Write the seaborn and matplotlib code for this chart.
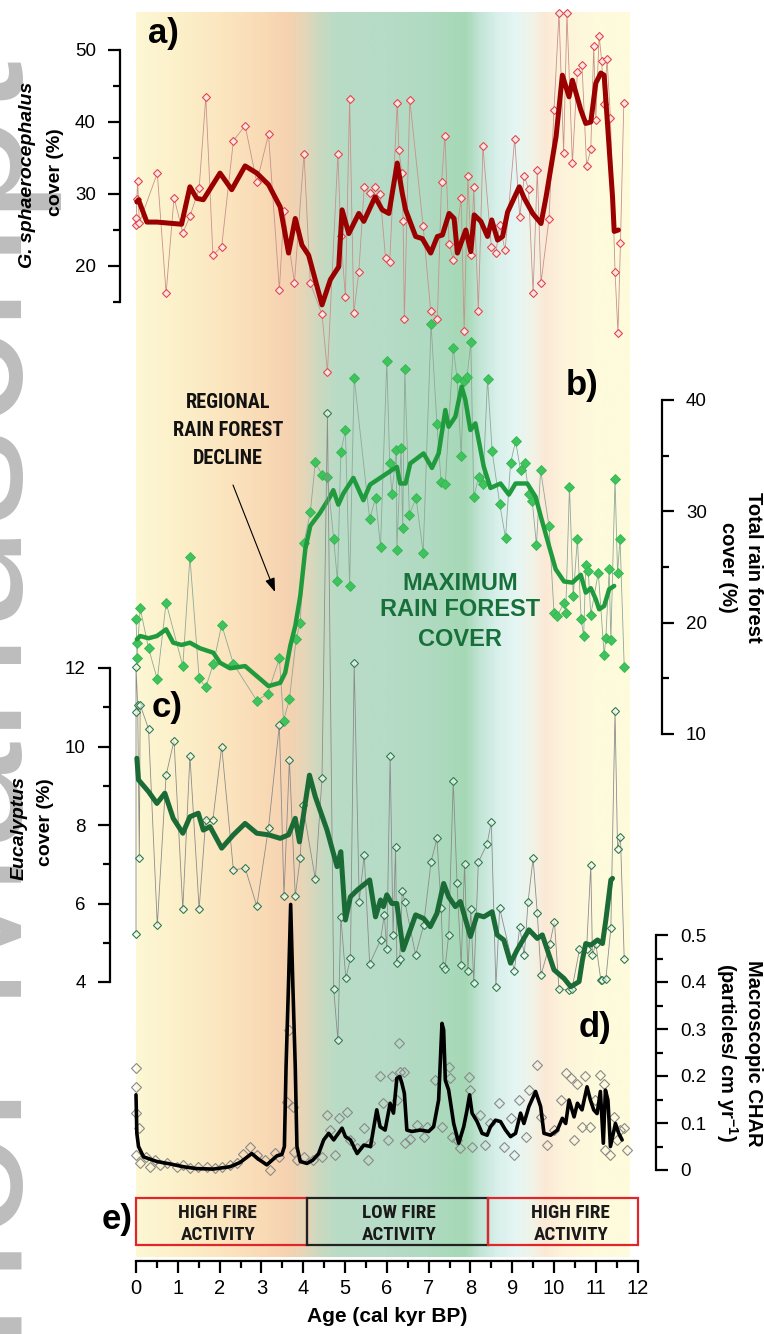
import numpy as np
import matplotlib
matplotlib.use("Agg")
import matplotlib.pyplot as plt
import seaborn as sns
from matplotlib.colors import LinearSegmentedColormap
from matplotlib.patches import Rectangle
from matplotlib import font_manager

sns.set_theme(style="white", rc={"axes.edgecolor": "black", "xtick.color": "black",
                                 "ytick.color": "black", "text.color": "black"})
plt.rcParams['font.family'] = ['Liberation Sans', 'DejaVu Sans']
plt.rcParams['mathtext.default'] = 'regular'


def find_narrow():
    fm = font_manager
    for fam in ['Liberation Sans Narrow', 'Arial Narrow', 'Nimbus Sans Narrow', 'Roboto Condensed',
                'Noto Sans Condensed', 'Open Sans Condensed', 'DejaVu Sans Condensed']:
        try:
            fm.findfont(fm.FontProperties(family=fam, weight='bold'), fallback_to_default=False)
            return dict(family=[fam, 'DejaVu Sans'])
        except Exception:
            pass
    for fam in ['Noto Sans', 'Roboto', 'Open Sans', 'DejaVu Sans']:
        try:
            p = fm.findfont(fm.FontProperties(family=fam, weight='bold', stretch='condensed'),
                            fallback_to_default=False)
            if 'ondensed' in p or 'arrow' in p:
                return dict(family=[fam, 'DejaVu Sans'], stretch='condensed')
        except Exception:
            pass
    return dict(family=['Liberation Sans', 'DejaVu Sans'])


NARROW = find_narrow()

# ---------------- data ----------------
# a) G. sphaerocephalus cover (%) - raw samples
a_age = [0.0, 0.0, 0.02, 0.04, 0.08, 0.51, 0.72, 0.91, 1.12, 1.29, 1.51, 1.67, 1.84, 2.05, 2.33, 2.61, 2.89,
         3.17, 3.43, 3.54, 3.79, 4.02, 4.17, 4.45, 4.58, 4.83, 4.90, 5.01, 5.11, 5.21, 5.33, 5.46, 5.59, 5.72,
         5.84, 5.97, 6.07, 6.25, 6.29, 6.36, 6.39, 6.42, 6.55, 6.87, 7.05, 7.21, 7.31, 7.39, 7.49, 7.59, 7.78,
         7.85, 7.94, 8.02, 8.08, 8.19, 8.30, 8.50, 8.61, 8.70, 8.83, 9.06, 9.18, 9.29, 9.39, 9.50, 9.60, 9.69,
         9.88, 10.00, 10.12, 10.23, 10.31, 10.44, 10.56, 10.67, 10.78, 10.88, 10.95, 11.00, 11.08, 11.14, 11.20,
         11.27, 11.35, 11.46, 11.53, 11.59, 11.67]
a_val = [26.6, 25.7, 29.3, 31.8, 26.0, 32.9, 16.2, 29.5, 24.6, 26.9, 30.8, 43.5, 21.5, 22.7, 37.4, 39.5, 31.6,
         38.3, 16.7, 27.7, 17.7, 35.6, 17.6, 13.3, 5.3, 35.6, 24.1, 15.7, 43.2, 13.5, 19.1, 31.0, 30.1, 31.0,
         30.0, 21.1, 20.6, 42.7, 36.1, 32.9, 26.3, 12.6, 43.1, 25.5, 13.7, 12.7, 31.6, 38.1, 23.1, 20.9, 29.5,
         11.0, 32.5, 21.5, 31.0, 13.7, 36.6, 22.7, 21.8, 25.7, 22.2, 37.7, 26.8, 32.5, 30.7, 16.2, 33.3, 17.7,
         26.5, 41.7, 55.2, 35.7, 55.1, 34.3, 47.0, 47.9, 33.9, 36.2, 50.5, 40.3, 52.0, 48.5, 42.5,
         48.7, 40.6, 19.2, 10.7, 23.2, 42.7]
# a) smoothed curve
as_age = [0.02, 0.06, 0.26, 0.50, 1.09, 1.29, 1.45, 1.61, 2.01, 2.29, 2.61, 2.89, 3.17, 3.45, 3.65, 3.81, 3.97,
          4.13, 4.45, 4.65, 4.85, 4.93, 5.09, 5.33, 5.45, 5.72, 5.89, 6.05, 6.25, 6.37, 6.45, 6.69, 6.85, 7.05,
          7.21, 7.33, 7.49, 7.61, 7.69, 7.89, 8.01, 8.09, 8.25, 8.41, 8.51, 8.65, 8.77, 8.89, 9.17, 9.29, 9.49,
          9.69, 9.81, 9.89, 10.05, 10.20, 10.36, 10.44, 10.64, 10.76, 10.88, 11.00, 11.12, 11.20, 11.40, 11.44,
          11.54]
as_val = [28.9, 29.2, 26.1, 26.1, 25.8, 31.0, 29.4, 29.2, 32.9, 30.6, 33.9, 32.9, 31.3, 28.2, 21.8, 26.6, 22.9,
          21.5, 14.6, 18.1, 19.9, 27.8, 24.5, 27.3, 26.2, 29.6, 27.8, 27.3, 34.3, 30.1, 27.8, 24.1, 23.8, 21.8,
          24.1, 24.3, 27.3, 26.6, 21.8, 25.0, 22.0, 27.1, 26.2, 24.1, 26.4, 23.6, 24.1, 27.5, 31.0, 29.4, 27.3,
          25.9, 29.6, 32.4, 38.0, 46.5, 43.5, 45.8, 41.7, 39.8, 40.0, 45.4, 46.8, 46.5, 29.6, 24.8,
          25.0]

# b) total rain forest cover (%)
b_age = [0.0, 0.02, 0.02, 0.10, 0.30, 0.51, 0.72, 1.12, 1.29, 1.51, 1.67, 1.85, 2.05, 2.33, 2.89, 3.15, 3.43,
         3.53, 3.67, 3.83, 3.93, 4.02, 4.17, 4.29, 4.45, 4.58, 4.73, 4.82, 4.90, 5.01, 5.11, 5.22, 5.59, 5.73,
         5.85, 6.00, 6.07, 6.12, 6.23, 6.24, 6.34, 6.38, 6.43, 6.54, 6.70, 6.87, 7.06, 7.20, 7.30, 7.40, 7.59,
         7.68, 7.78, 7.84, 7.92, 8.01, 8.08, 8.20, 8.30, 8.41, 8.52, 8.70, 8.84, 8.96, 9.08, 9.20, 9.30, 9.40,
         9.48, 9.58, 9.68, 9.88, 10.00, 10.08, 10.24, 10.28, 10.37, 10.46, 10.56, 10.65, 10.71, 10.76, 10.82,
         10.88, 11.06, 11.20, 11.24, 11.32, 11.36, 11.46, 11.52, 11.58, 11.68]
b_val = [20.3, 18.2, 16.8, 21.3, 17.7, 14.9, 21.8, 16.1, 25.9, 15.0, 14.2, 16.3, 19.8, 16.3, 13.0, 13.6, 16.8,
         11.2, 13.1, 18.5, 20.0, 27.2, 29.9, 34.4, 33.3, 33.1, 27.5, 23.7, 35.3, 37.3, 23.3, 42.0, 29.3, 31.2,
         26.8, 43.5, 34.3, 31.6, 35.5, 26.5, 35.7, 28.5, 42.8, 29.7, 31.2, 26.3, 46.8, 37.8, 32.6, 32.5, 44.7,
         42.0, 35.0, 41.7, 42.1, 45.2, 31.3, 33.1, 32.5, 41.9, 35.4, 30.7, 27.6, 34.3, 36.3, 33.7, 34.3, 31.6,
         30.9, 27.0, 33.7, 28.7, 20.9, 20.6, 21.8, 20.9, 32.2, 22.4, 27.5, 20.3, 18.8, 25.2, 24.6,
         20.7, 24.5, 17.1, 18.6, 24.8, 18.4, 32.9, 24.5, 27.5, 16.0]
bs_age = [0.02, 0.10, 0.30, 0.50, 0.72, 0.89, 1.09, 1.29, 1.53, 1.85, 2.01, 2.25, 2.61, 2.89, 3.17, 3.45, 3.57,
          3.69, 3.81, 3.93, 4.05, 4.17, 4.40, 4.64, 4.72, 4.84, 4.96, 5.20, 5.44, 5.60, 6.00, 6.24, 6.32, 6.45,
          6.56, 6.88, 7.08, 7.24, 7.40, 7.48, 7.64, 7.79, 7.88, 8.00, 8.12, 8.32, 8.48, 8.72, 8.92, 9.08, 9.36,
          9.56, 9.68, 9.88, 10.04, 10.24, 10.44, 10.64, 10.76, 10.88, 11.00, 11.08, 11.20, 11.32, 11.44]
bs_val = [18.5, 18.8, 18.6, 18.8, 19.4, 18.2, 18.0, 18.2, 17.7, 17.3, 16.4, 15.9, 16.1, 15.2, 14.3, 14.6, 15.5,
          17.9, 19.7, 22.4, 26.6, 28.7, 29.85, 31.3, 31.9, 30.6, 31.6, 33.0, 31.0, 32.4, 33.4, 34.0, 32.5, 32.5,
          34.3, 35.2, 33.9, 35.2, 39.1, 37.6, 38.5, 41.2, 40.0, 37.3, 37.9, 34.0, 32.1, 32.5, 31.5, 32.5, 32.5,
          31.3, 29.6, 26.9, 24.8, 23.7, 23.6, 24.3, 22.7, 23.1, 22.1, 21.2, 21.5, 23.0, 23.3]

# c) Eucalyptus cover (%)
c_age = [0.0, 0.0, 0.0, 0.04, 0.08, 0.10, 0.30, 0.51, 0.72, 0.91, 1.12, 1.29, 1.51, 1.67, 1.84, 2.05, 2.33,
         2.61, 2.89, 3.17, 3.43, 3.54, 3.67, 3.81, 3.93, 3.99, 4.29, 4.45, 4.58, 4.73, 4.83, 4.90, 5.02, 5.13,
         5.22, 5.34, 5.46, 5.59, 5.85, 5.94, 6.00, 6.08, 6.15, 6.21, 6.24, 6.31, 6.37, 6.43, 6.69, 6.88, 7.06,
         7.20, 7.30, 7.35, 7.39, 7.48, 7.59, 7.68, 7.78, 7.86, 7.94, 8.01, 8.08, 8.19, 8.40, 8.50, 8.61, 8.70,
         9.05, 9.18, 9.29, 9.38, 9.50, 9.60, 9.69, 9.90, 10.01, 10.12, 10.35, 10.43, 10.61, 10.78, 10.88, 10.92,
         11.00, 11.12, 11.16, 11.24, 11.36, 11.46, 11.52, 11.59, 11.68]
c_val = [5.22, 10.89, 12.03, 11.06, 7.15, 11.06, 10.45, 5.44, 9.27, 10.15, 5.85, 9.76, 5.87, 8.14, 8.14, 10.00,
         6.85, 6.91, 5.93, 7.93, 10.55, 6.19, 9.66, 6.19, 7.17, 8.51, 6.62, 9.19, 18.5, 3.81, 2.51, 5.66, 4.09,
         4.60, 12.14, 6.05, 7.24, 4.46, 5.07, 5.71, 4.83, 9.77, 5.20, 7.45, 4.48, 4.58, 6.32, 6.05, 4.69, 5.44,
         7.07, 7.66, 5.88, 4.41, 4.32, 5.20, 9.13, 6.53, 4.43, 7.00, 4.28, 5.85, 3.97, 7.05, 7.52, 8.08, 3.88,
         5.88, 4.29, 5.39, 4.69, 6.05, 7.15, 5.75, 4.18, 4.97, 5.54, 3.81, 3.80, 3.82, 4.83, 4.84, 6.97, 4.68,
         4.98, 4.05, 4.05, 4.07, 5.37, 10.91, 7.40, 7.70, 4.59]
cs_age = [0.02, 0.06, 0.30, 0.50, 0.69, 0.89, 1.12, 1.29, 1.49, 1.61, 1.77, 2.05, 2.33, 2.61, 2.89, 3.17, 3.45,
          3.65, 3.81, 3.91, 4.15, 4.29, 4.57, 4.81, 4.90, 5.01, 5.13, 5.29, 5.59, 5.73, 5.85, 5.92, 6.00, 6.12,
          6.24, 6.39, 6.69, 6.88, 7.04, 7.20, 7.36, 7.48, 7.64, 7.76, 8.00, 8.16, 8.32, 8.52, 8.64, 8.80, 8.96,
          9.12, 9.40, 9.60, 9.72, 10.00, 10.24, 10.40, 10.60, 10.68, 10.76, 10.88, 11.04, 11.16, 11.24, 11.36,
          11.40]
cs_val = [9.70, 9.15, 8.85, 8.55, 8.81, 8.17, 7.79, 8.21, 8.30, 7.87, 7.96, 7.41, 7.75, 8.04, 7.79, 7.75, 7.66,
          7.75, 8.17, 7.57, 9.27, 8.72, 7.87, 6.94, 7.32, 5.58, 6.17, 6.34, 6.60, 5.66, 6.09, 5.92, 6.22, 6.00,
          6.00, 4.82, 5.71, 5.62, 5.41, 5.75, 6.51, 6.17, 5.92, 6.05, 5.16, 5.71, 5.66, 5.79, 5.20, 5.07, 4.48,
          4.82, 5.33, 5.11, 5.20, 4.31, 4.09, 3.88, 4.01, 4.56, 4.98, 4.94, 5.07, 4.98, 5.58, 6.60,
          6.64]

# d) Macroscopic CHAR (particles/cm2/yr)
d_age = [0.0, 0.0, 0.0, 0.0, 0.06, 0.10, 0.24, 0.34, 0.46, 0.57, 0.73, 0.97, 1.13, 1.29, 1.49, 1.69, 1.89, 2.05,
         2.25, 2.41, 2.57, 2.73, 2.89, 3.09, 3.21, 3.33, 3.43, 3.61, 3.67, 3.75, 3.77, 3.85, 4.01, 4.23, 4.45,
         4.57, 4.65, 4.77, 4.85, 5.05, 5.13, 5.29, 5.45, 5.54, 5.61, 5.84, 5.92, 6.04, 6.13, 6.24, 6.28, 6.32,
         6.42, 6.44, 6.56, 6.72, 6.88, 6.96, 7.16, 7.32, 7.48, 7.52, 7.56, 7.68, 7.76, 7.96, 8.00, 8.04, 8.24,
         8.36, 8.48, 8.68, 8.80, 8.96, 9.04, 9.16, 9.32, 9.40, 9.60, 9.68, 9.84, 10.00, 10.16, 10.28, 10.40,
         10.48, 10.56, 10.67, 10.75, 10.87, 10.99, 11.11, 11.19, 11.23, 11.35, 11.43, 11.51, 11.59, 11.67, 11.75]
d_val = [0.216, 0.176, 0.121, 0.032, 0.089, 0.014, 0.028, 0.007, 0.021, 0.011, 0.014, 0.007, 0.011, 0.004,
         0.007, 0.007, 0.004, 0.007, 0.011, 0.014, 0.035, 0.050, 0.032, 0.021, 0.000, 0.037, 0.028, 0.145,
         0.298, 0.135, 0.039, 0.021, 0.028, 0.021, 0.028, 0.117, 0.085, 0.032, 0.110, 0.124, 0.064, 0.046,
         0.089, 0.021, 0.057, 0.199, 0.142, 0.064, 0.199, 0.149, 0.270, 0.209, 0.209, 0.057, 0.067, 0.096,
         0.071, 0.092, 0.191, 0.092, 0.220, 0.195, 0.071, 0.064, 0.046, 0.197, 0.170, 0.050, 0.117, 0.053,
         0.099, 0.142, 0.050, 0.110, 0.032, 0.149, 0.071, 0.170, 0.223, 0.113, 0.053, 0.085, 0.149, 0.206,
         0.195, 0.064, 0.184, 0.092, 0.199, 0.092, 0.149, 0.202, 0.184, 0.043, 0.032, 0.113, 0.064, 0.085,
         0.089, 0.043]
ds_age = [0.00, 0.02, 0.06, 0.18, 0.50, 0.81, 1.13, 1.45, 1.85, 2.25, 2.49, 2.77, 2.93, 3.13, 3.37, 3.49, 3.55,
          3.59, 3.65, 3.70, 3.75, 3.81, 3.85, 3.93, 4.09, 4.23, 4.37, 4.49, 4.61, 4.73, 4.93, 5.01, 5.13, 5.29,
          5.45, 5.61, 5.76, 5.84, 5.96, 6.08, 6.16, 6.24, 6.31, 6.36, 6.42, 6.48, 6.60, 6.80, 7.00, 7.12, 7.24,
          7.32, 7.36, 7.40, 7.48, 7.60, 7.72, 7.84, 7.92, 7.98, 8.04, 8.16, 8.28, 8.40, 8.48, 8.60, 8.72, 8.84,
          8.96, 9.08, 9.20, 9.28, 9.40, 9.56, 9.68, 9.76, 9.92, 10.08, 10.20, 10.28, 10.36, 10.48, 10.56, 10.67,
          10.79, 10.87, 10.95, 11.03, 11.11, 11.18, 11.23, 11.29, 11.35, 11.47, 11.55, 11.63]
ds_val = [0.160, 0.078, 0.050, 0.028, 0.018, 0.013, 0.007, 0.003, 0.002, 0.007, 0.016, 0.035, 0.023, 0.011,
          0.030, 0.033, 0.050, 0.220, 0.400, 0.565, 0.400, 0.220, 0.050, 0.018, 0.014, 0.021, 0.035, 0.064,
          0.078, 0.064, 0.089, 0.071, 0.064, 0.035, 0.053, 0.050, 0.128, 0.092, 0.085, 0.142, 0.121, 0.195,
          0.199, 0.185, 0.163, 0.085, 0.082, 0.085, 0.082, 0.092, 0.149, 0.312, 0.298, 0.191, 0.170, 0.099,
          0.057, 0.092, 0.128, 0.160, 0.121, 0.103, 0.078, 0.074, 0.092, 0.106, 0.103, 0.085, 0.071, 0.078,
          0.121, 0.099, 0.135, 0.167, 0.135, 0.078, 0.074, 0.085, 0.110, 0.099, 0.149, 0.113, 0.142, 0.128,
          0.177, 0.149, 0.128, 0.120, 0.167, 0.057, 0.170, 0.149, 0.050, 0.099, 0.078, 0.064]

# e) fire activity zones
fire_start = [0.0, 4.09, 8.43]
fire_end = [4.09, 8.43, 12.0]
fire_text_age = [1.96, 6.30, 10.40]
fire_line1 = ["HIGH FIRE", "LOW FIRE", "HIGH FIRE"]
fire_line2 = ["ACTIVITY", "ACTIVITY", "ACTIVITY"]
fire_edge = ['#e0262b', '#222222', '#e0262b']

# ticks / labels
x_major = list(range(0, 13))
x_labels = [str(v) for v in x_major]
a_ticks = [20, 30, 40, 50]
b_ticks = [10, 20, 30, 40]
c_ticks = [4, 6, 8, 10, 12]
d_ticks = [0, 0.1, 0.2, 0.3, 0.4, 0.5]
d_labels = ['0', '0.1', '0.2', '0.3', '0.4', '0.5']

# background climate-zone gradient (age, colour)
bg_age = [0.0, 1.0, 2.0, 3.0, 3.6, 4.0, 4.4, 4.8, 6.0, 7.0, 7.6, 7.9, 8.2, 8.6, 9.1, 9.5, 9.8, 10.2, 11.0, 11.8]
bg_col = ['#fdf7d4', '#fcf0c9', '#fbe6c0', '#f9dbb6', '#f6d2b0', '#e6d6b8', '#c9d9c0', '#b9dcc6', '#b6dbc6',
          '#b0dac1', '#a8d9b9', '#a6d8b6', '#c0e4d3', '#d6efe9', '#e6f6f4', '#f1f3e6', '#fbe9d6', '#fdf3da',
          '#fefadc', '#fefbdd']

# ---------------- layout ----------------
W, H = 764, 1334
fig = plt.figure(figsize=(W / 100, H / 100), dpi=100)
fig.patch.set_facecolor('white')
renderer = fig.canvas.get_renderer()

AX_L, AX_R = 100, 680
X0, PX = 136.0, 41.8
XLIM = ((AX_L - X0) / PX, (AX_R - X0) / PX)


def xdata(px):
    return (px - X0) / PX


def add_ax(top, bot, z):
    ax = fig.add_axes([AX_L / W, 1 - bot / H, (AX_R - AX_L) / W, (bot - top) / H], zorder=z)
    ax.patch.set_alpha(0)
    for s in ax.spines.values():
        s.set_visible(False)
    ax.set_xticks([])
    ax.set_yticks([])
    ax.grid(False)
    return ax


def calib(ax, top, bot, p1, v1, p2, v2):
    slope = (v1 - v2) / (p2 - p1)
    ax.set_xlim(*XLIM)
    ax.set_ylim(v1 - (bot - p1) * slope, v1 + (p1 - top) * slope)


def style_y(ax, side, xpx, lo, hi, major, labels, minor):
    sp = ax.spines[side]
    sp.set_visible(True)
    sp.set_position(('data', xdata(xpx)))
    sp.set_bounds(lo, hi)
    sp.set_linewidth(1.6)
    sp.set_color('black')
    ax.set_yticks(major)
    ax.set_yticklabels(labels)
    ax.set_yticks(minor, minor=True)
    left = side == 'left'
    ax.tick_params(axis='y', which='both', left=left, right=not left, labelleft=left,
                   labelright=not left, direction='out', width=1.6, colors='black')
    ax.tick_params(axis='y', which='major', length=8.8, labelsize=13.5, pad=8.5)
    ax.tick_params(axis='y', which='minor', length=5.0)
    ax.set_xlabel('')
    ax.set_ylabel('')


def ftext(x, y, s, **kw):
    return fig.text(x / W, 1 - y / H, s, **kw)


def fit_size(sample, target_px, base=14.0):
    t = fig.text(0, 0, sample, fontsize=base, fontweight='bold', **NARROW)
    w = t.get_window_extent(renderer).width
    t.remove()
    return base * target_px / w


REG_FS = fit_size("RAIN FOREST", 111)
FIRE_FS = fit_size("HIGH FIRE", 79)

# background + x axis
ax_bg = add_ax(12, 1261, 0)
cmap = LinearSegmentedColormap.from_list('zones', list(zip(np.array(bg_age) / bg_age[-1], bg_col)))
ax_bg.imshow(np.linspace(0, 1, 800).reshape(1, -1), extent=[0, bg_age[-1], 1257, 12], aspect='auto',
             cmap=cmap, interpolation='bilinear', zorder=0)
ax_bg.set_xlim(*XLIM)
ax_bg.set_ylim(1261, 12)
spb = ax_bg.spines['bottom']
spb.set_visible(True)
spb.set_bounds(0, 12)
spb.set_linewidth(1.6)
spb.set_color('black')
ax_bg.set_xticks(x_major)
ax_bg.set_xticklabels(x_labels)
ax_bg.set_xticks(np.arange(0.5, 12, 1.0), minor=True)
ax_bg.tick_params(axis='x', which='both', bottom=True, direction='out', width=1.6, colors='black')
ax_bg.tick_params(axis='x', which='major', length=8.8, labelsize=14.5, pad=4)
ax_bg.tick_params(axis='x', which='minor', length=4.8)

# fire boxes (e)
for s, e, ta, l1, l2, ec in zip(fire_start, fire_end, fire_text_age, fire_line1, fire_line2, fire_edge):
    ax_bg.add_patch(Rectangle((s, 1198), e - s, 47, fill=False, edgecolor=ec, linewidth=1.6, zorder=3))
    ax_bg.text(ta, 1213, l1, ha='center', va='center', fontsize=FIRE_FS, fontweight='bold',
               color='#1a1a1a', zorder=4, **NARROW)
    ax_bg.text(ta, 1235, l2, ha='center', va='center', fontsize=FIRE_FS, fontweight='bold',
               color='#1a1a1a', zorder=4, **NARROW)

# annotation arrow and texts
ax_bg.annotate('', xy=(xdata(275), 592), xytext=(xdata(233), 485),
               arrowprops=dict(arrowstyle='-|>,head_length=0.7,head_width=0.25', color='black', lw=0.8,
                               shrinkA=0, shrinkB=0), zorder=5)
for yy, ln in zip([402, 431, 459], ["REGIONAL", "RAIN FOREST", "DECLINE"]):
    ftext(228, yy, ln, ha='center', va='center', fontsize=REG_FS, fontweight='bold',
          color='#111111', zorder=6, **NARROW)
for yy, ln in zip([583, 610, 639], ["MAXIMUM", "RAIN FOREST", "COVER"]):
    ftext(460, yy, ln, ha='center', va='center', fontsize=17, fontweight='bold', color='#17703a', zorder=6)

# panel a
ax_a = add_ax(5, 400, 2)
sns.lineplot(x=a_age, y=a_val, ax=ax_a, estimator=None, sort=False, color='#c9918a', linewidth=0.6,
             marker='D', markersize=4.3, markerfacecolor=(1, 0.9, 0.9), markeredgecolor='#e0474c',
             markeredgewidth=0.8)
sns.lineplot(x=as_age, y=as_val, ax=ax_a, estimator=None, sort=False, color='#9a0000', linewidth=3.6)
calib(ax_a, 5, 400, 50, 50, 266, 20)
style_y(ax_a, 'left', 120, 15, 50, a_ticks, [str(t) for t in a_ticks], [15, 25, 35, 45])

# panel b
ax_b = add_ax(300, 780, 3)
sns.lineplot(x=b_age, y=b_val, ax=ax_b, estimator=None, sort=False, color='#8fa898', linewidth=0.6,
             marker='D', markersize=4.6, markerfacecolor='#3fc35c', markeredgecolor='#36b552',
             markeredgewidth=0.6)
sns.lineplot(x=bs_age, y=bs_val, ax=ax_b, estimator=None, sort=False, color='#1f9b3d', linewidth=3.2)
calib(ax_b, 300, 780, 400, 40, 734, 10)
style_y(ax_b, 'right', 662, 10, 40, b_ticks, [str(t) for t in b_ticks], [15, 25, 35])

# panel c
ax_c = add_ax(380, 1060, 4)
sns.lineplot(x=c_age, y=c_val, ax=ax_c, estimator=None, sort=False, color='#8c8c8c', linewidth=0.6,
             marker='D', markersize=4.0, markerfacecolor=(1, 1, 1, 0.6), markeredgecolor='#2f7d4d',
             markeredgewidth=0.8)
sns.lineplot(x=cs_age, y=cs_val, ax=ax_c, estimator=None, sort=False, color='#1a6b35', linewidth=3.6)
calib(ax_c, 380, 1060, 668, 12, 982, 4)
style_y(ax_c, 'left', 110, 4, 12, c_ticks, [str(t) for t in c_ticks], [5, 7, 9, 11])

# panel d
ax_d = add_ax(870, 1195, 5)
sns.lineplot(x=d_age, y=d_val, ax=ax_d, estimator=None, sort=False, linestyle='', color='#8a8a8a',
             marker='D', markersize=5.5, markerfacecolor='none', markeredgecolor='#8a8a8a',
             markeredgewidth=0.8)
sns.lineplot(x=ds_age, y=ds_val, ax=ax_d, estimator=None, sort=False, color='black', linewidth=2.6)
calib(ax_d, 870, 1195, 935, 0.5, 1170, 0.0)
style_y(ax_d, 'right', 656, 0, 0.5, d_ticks, d_labels, [0.05, 0.15, 0.25, 0.35, 0.45])

# watermark
ftext(22, 60, "Author Manuscript", rotation=90, rotation_mode='anchor', ha='right', va='baseline',
      fontsize=140, color='#bdbdbd', zorder=0.5)

# axis titles
ftext(28, 175, 'G. sphaerocephalus', rotation=90, ha='center', va='center', fontsize=14,
      fontweight='bold', fontstyle='italic', zorder=6)
ftext(55, 172, 'cover (%)', rotation=90, ha='center', va='center', fontsize=14, fontweight='bold', zorder=6)
ftext(19, 828, 'Eucalyptus', rotation=90, ha='center', va='center', fontsize=14,
      fontweight='bold', fontstyle='italic', zorder=6)
ftext(45, 822, 'cover (%)', rotation=90, ha='center', va='center', fontsize=14, fontweight='bold', zorder=6)
ftext(753, 567, 'Total rain forest', rotation=270, ha='center', va='center', fontsize=14.5,
      fontweight='bold', zorder=6)
ftext(727, 567, 'cover (%)', rotation=270, ha='center', va='center', fontsize=14.5, fontweight='bold', zorder=6)
ftext(753, 1053, 'Macroscopic CHAR', rotation=270, ha='center', va='center', fontsize=14.5,
      fontweight='bold', zorder=6)
ftext(727, 1052, r'(particles/ cm yr$^{-1}$)', rotation=270, ha='center', va='center', fontsize=14.5,
      fontweight='bold', zorder=6)
ftext(387, 1317, 'Age (cal kyr BP)', ha='center', va='center', fontsize=15, fontweight='bold', zorder=6)

# panel letters
for (px, py, lab) in [(148, 33, 'a)'), (566, 385, 'b)'), (152, 708, 'c)'), (579, 1028, 'd)'), (102, 1219, 'e)')]:
    ftext(px, py, lab, ha='left', va='center', fontsize=25, fontweight='bold', zorder=7)

fig.savefig('out.png', dpi=100, facecolor='white')
